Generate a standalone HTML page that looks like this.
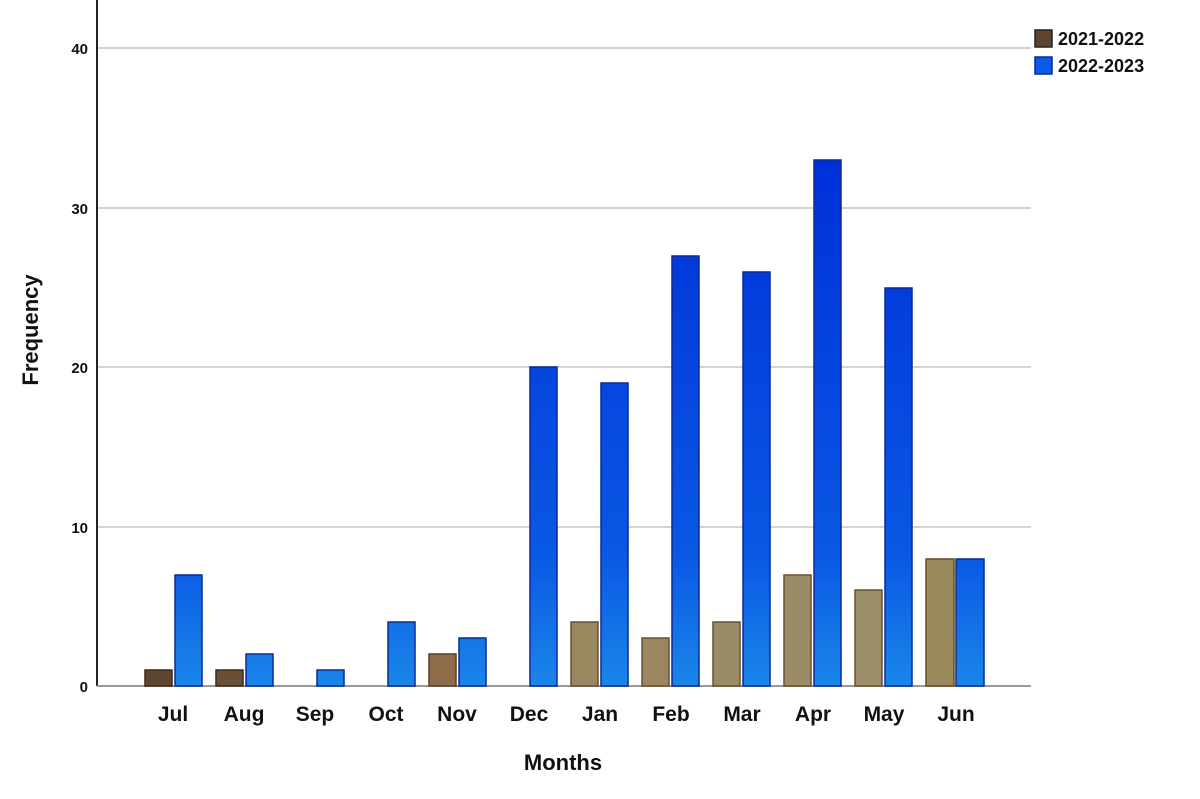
<!DOCTYPE html>
<html><head><style>body{margin:0;background:#fff}</style></head><body>
<svg width="1200" height="794" xmlns="http://www.w3.org/2000/svg" font-family="Liberation Sans, sans-serif" font-weight="bold">
<defs>
<linearGradient id="bl" gradientUnits="userSpaceOnUse" x1="0" y1="160" x2="0" y2="686">
<stop offset="0" stop-color="#0030d8"/><stop offset="0.75" stop-color="#0a58e4"/><stop offset="1" stop-color="#1a86e8"/></linearGradient>
</defs>
<g stroke="#d4d4d4" stroke-width="2">
<line x1="97" y1="48" x2="1031" y2="48"/><line x1="97" y1="208" x2="1031" y2="208"/>
<line x1="97" y1="367" x2="1031" y2="367"/><line x1="97" y1="527" x2="1031" y2="527"/>
</g>
<line x1="97" y1="0" x2="97" y2="686" stroke="#222" stroke-width="2"/>
<line x1="97" y1="686" x2="1031" y2="686" stroke="#999" stroke-width="2"/>
<g font-size="15" text-anchor="end" fill="#111">
<text x="88" y="54">40</text><text x="88" y="214">30</text><text x="88" y="373">20</text><text x="88" y="533">10</text><text x="88" y="692">0</text>
</g>
<g stroke-width="1.5">
<rect x="145" y="670" width="27" height="16" fill="#5e4530" stroke="#3a2a1a"/>
<rect x="216" y="670" width="27" height="16" fill="#6a4e36" stroke="#3a2a1a"/>
<rect x="429" y="654" width="27" height="32" fill="#8e6c4a" stroke="#5a3f25"/>
<rect x="571" y="622" width="27" height="64" fill="#9a8760" stroke="#6a5030"/>
<rect x="642" y="638" width="27" height="48" fill="#9a8760" stroke="#6a5030"/>
<rect x="713" y="622" width="27" height="64" fill="#9a8c64" stroke="#6a5030"/>
<rect x="784" y="575" width="27" height="111" fill="#9a8c64" stroke="#6a5030"/>
<rect x="855" y="590" width="27" height="96" fill="#9a8e68" stroke="#6a5030"/>
<rect x="926" y="559" width="28" height="127" fill="#9a8a5c" stroke="#6a4a28"/>
<g fill="url(#bl)" stroke="#0a2a9a">
<rect x="175" y="575" width="27" height="111"/>
<rect x="246" y="654" width="27" height="32"/>
<rect x="317" y="670" width="27" height="16"/>
<rect x="388" y="622" width="27" height="64"/>
<rect x="459" y="638" width="27" height="48"/>
<rect x="530" y="367" width="27" height="319"/>
<rect x="601" y="383" width="27" height="303"/>
<rect x="672" y="256" width="27" height="430"/>
<rect x="743" y="272" width="27" height="414"/>
<rect x="814" y="160" width="27" height="526"/>
<rect x="885" y="288" width="27" height="398"/>
<rect x="956" y="559" width="28" height="127"/>
</g>
</g>
<g font-size="21" text-anchor="middle" fill="#111">
<text x="173" y="721">Jul</text><text x="244" y="721">Aug</text><text x="315" y="721">Sep</text><text x="386" y="721">Oct</text>
<text x="457" y="721">Nov</text><text x="529" y="721">Dec</text><text x="600" y="721">Jan</text><text x="671" y="721">Feb</text>
<text x="742" y="721">Mar</text><text x="813" y="721">Apr</text><text x="884" y="721">May</text><text x="956" y="721">Jun</text>
</g>
<text x="563" y="770" font-size="22" text-anchor="middle" fill="#111">Months</text>
<text transform="translate(38,330) rotate(-90)" font-size="22" text-anchor="middle" fill="#111">Frequency</text>
<rect x="1035" y="30" width="17" height="17" fill="#5e4530" stroke="#222" stroke-width="1.5"/>
<rect x="1035" y="57" width="17" height="17" fill="#0a5ce4" stroke="#0a2a9a" stroke-width="1.5"/>
<g font-size="18" fill="#111"><text x="1058" y="45">2021-2022</text><text x="1058" y="72">2022-2023</text></g>
</svg>
</body></html>
